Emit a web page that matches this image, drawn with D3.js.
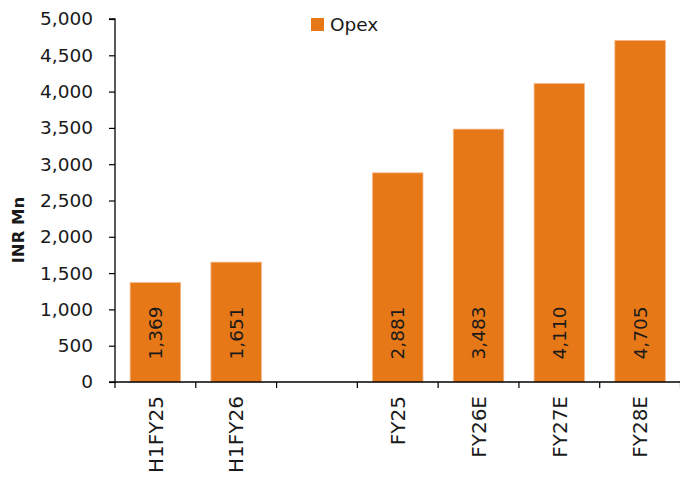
<!DOCTYPE html>
<html>
<head>
<meta charset="utf-8">
<script src="https://cdn.jsdelivr.net/npm/d3@7"></script>
<style>
  html, body { margin: 0; padding: 0; background: #fff; }
  svg { display: block; font-family: "DejaVu Sans", Verdana, sans-serif; }
</style>
</head>
<body>
<svg id="chart" width="680" height="480"></svg>
<script>
// Opex by period (INR Mn); the empty slot separates half-year from full-year figures
const categories = ["H1FY25", "H1FY26", "", "FY25", "FY26E", "FY27E", "FY28E"];
const opexValues = [1369, 1651, null, 2881, 3483, 4110, 4705];
const yTicks = [0, 500, 1000, 1500, 2000, 2500, 3000, 3500, 4000, 4500, 5000];
const seriesName = "Opex";
const yTitle = "INR Mn";

const svg = d3.select("#chart");
const margin = { top: 19, right: 0, bottom: 98, left: 115 };
const width = 680 - margin.left - margin.right;
const height = 480 - margin.top - margin.bottom;
const barColor = "#E67818";

const g = svg.append("g").attr("transform", `translate(${margin.left},${margin.top})`);

const x = d3.scaleBand().domain(d3.range(categories.length)).range([0, width + 0.5])
  .paddingInner(0.375).paddingOuter(0.1875);
const y = d3.scaleLinear().domain([0, 5000]).range([height, 0]);

const data = categories.map((c, i) => ({ i, label: c, value: opexValues[i] }));

// bars
g.selectAll("rect.bar").data(data.filter(d => d.value != null)).join("rect")
  .attr("class", "bar")
  .attr("x", d => x(d.i))
  .attr("width", x.bandwidth())
  .attr("y", d => y(d.value))
  .attr("height", d => y(0) - y(d.value))
  .attr("fill", barColor)
  .attr("stroke", "#F6B889")
  .attr("stroke-width", 0.8);

// value labels, rotated inside each bar
g.selectAll("text.val").data(data.filter(d => d.value != null)).join("text")
  .attr("class", "val")
  .attr("transform", d => `translate(${x(d.i) + x.bandwidth() / 2 + 6.5},${y(0) - 49}) rotate(-90)`)
  .attr("text-anchor", "middle")
  .attr("font-size", 18.5)
  .attr("fill", "#1a1a1a")
  .text(d => d3.format(",")(d.value));

// y axis
const yAxis = g.append("g")
  .call(d3.axisLeft(y).tickValues(yTicks).tickSize(6).tickPadding(16).tickFormat(d3.format(",")));
yAxis.select(".domain").attr("stroke", "#000").attr("stroke-width", 1.3).attr("d", `M-6,${height}H0V0H-6`);
yAxis.selectAll(".tick line").attr("stroke", "#000").attr("stroke-width", 1.2);
yAxis.selectAll(".tick text").attr("font-size", 18.5).attr("fill", "#1a1a1a")
  .attr("font-family", "DejaVu Sans, Verdana, sans-serif");

// x axis: tick marks sit on the boundaries between categories
const step = x.step();
const bounds = d3.range(categories.length + 1).map(k => k * step);
const xAxisG = g.append("g").attr("transform", `translate(0,${height})`);
xAxisG.append("line").attr("x1", 0).attr("x2", width).attr("y1", 0).attr("y2", 0)
  .attr("stroke", "#000").attr("stroke-width", 1.3);
xAxisG.selectAll("line.tk").data(bounds).join("line").attr("class", "tk")
  .attr("x1", d => d).attr("x2", d => d).attr("y1", 0).attr("y2", 6)
  .attr("stroke", "#000").attr("stroke-width", 1.2);
xAxisG.selectAll("text.cat").data(data).join("text").attr("class", "cat")
  .attr("transform", d => `translate(${x(d.i) + x.bandwidth() / 2 + 7.2},14) rotate(-90)`)
  .attr("text-anchor", "end")
  .attr("font-size", 20)
  .attr("fill", "#1a1a1a")
  .text(d => d.label);

// y axis title
svg.append("text")
  .attr("transform", "translate(24,230) rotate(-90)")
  .attr("text-anchor", "middle")
  .attr("font-size", 16.5)
  .attr("font-weight", "bold")
  .attr("fill", "#1a1a1a")
  .text(yTitle);

// legend
const legend = svg.append("g").attr("transform", "translate(311,18)");
legend.append("rect").attr("width", 13).attr("height", 13).attr("fill", barColor);
legend.append("text").attr("x", 19).attr("y", 13).attr("font-size", 18.5).attr("fill", "#1a1a1a").text(seriesName);
</script>
</body>
</html>
